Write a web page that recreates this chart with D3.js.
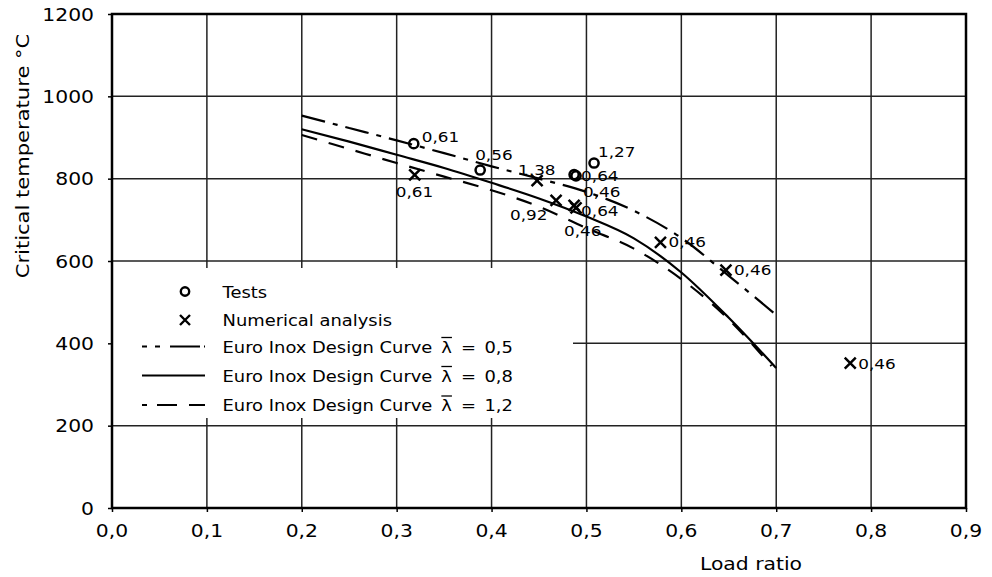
<!DOCTYPE html>
<html>
<head>
<meta charset="utf-8">
<script src="https://cdn.jsdelivr.net/npm/d3@7"></script>
<style>
  html, body { margin: 0; padding: 0; background: #fff; }
  svg { display: block; font-family: "DejaVu Sans", sans-serif; }
</style>
</head>
<body>
<svg id="chart" width="992" height="577"></svg>
<script>
// ---------------- data ----------------
const xTicks = [0, 0.1, 0.2, 0.3, 0.4, 0.5, 0.6, 0.7, 0.8, 0.9];
const yTicks = [0, 200, 400, 600, 800, 1000, 1200];
const xTickLabels = ["0,0", "0,1", "0,2", "0,3", "0,4", "0,5", "0,6", "0,7", "0,8", "0,9"];

// Tests (circles)
const testX = [0.318, 0.388, 0.487, 0.489, 0.508];
const testY = [885, 821, 810, 807, 838];
const testLabel = ["0,61", "0,56", "0,64", "0,46", "1,27"];

// Numerical analysis (crosses)
const numX = [0.319, 0.448, 0.468, 0.487, 0.489, 0.578, 0.647, 0.778];
const numY = [809, 795, 747, 735, 729, 645, 578, 352];
const numLabel = ["0,61", "1,38", "0,92", "0,64", "0,46", "0,46", "0,46", "0,46"];

// Euro Inox design curves
const curveX05 = [0.2, 0.25, 0.3, 0.35, 0.4, 0.45, 0.5, 0.55, 0.6, 0.65, 0.7];
const curveY05 = [953, 923, 893, 862, 830, 800, 768, 722, 656, 564, 469];
const curveX08 = [0.2, 0.25, 0.3, 0.35, 0.4, 0.45, 0.5, 0.55, 0.6, 0.65, 0.7];
const curveY08 = [920, 890, 858, 826, 790, 752, 708, 655, 572, 462, 340];
const curveX12 = [0.2, 0.25, 0.3, 0.35, 0.4, 0.45, 0.5, 0.55, 0.6, 0.65, 0.695];
const curveY12 = [906, 872, 838, 805, 772, 732, 680, 630, 556, 458, 345];

const legendLabels = ["Tests", "Numerical analysis", "Euro Inox Design Curve", "Euro Inox Design Curve", "Euro Inox Design Curve"];
const lambdaValues = ["0,5", "0,8", "1,2"];

// ---------------- layout / styles ----------------
const svg = d3.select("#chart");
const x = d3.scaleLinear().domain([0, 0.9]).range([112, 966]);
const y = d3.scaleLinear().domain([0, 1200]).range([508, 14]);

const SX = 1.13; // horizontal glyph stretch of the reference font

function stretchedText(parent, px, py, str, size, anchor, sx, rot) {
  const g = parent.append("g")
    .attr("transform", `translate(${px},${py})` + (rot ? ` rotate(${rot})` : "") + ` scale(${sx},1)`);
  const t = g.append("text")
    .attr("x", 0).attr("y", 0)
    .attr("font-size", size)
    .attr("text-anchor", anchor || "start")
    .attr("fill", "#000")
    .text(str);
  return { g, t };
}

// gridlines
const grid = svg.append("g");
grid.selectAll("line.vx").data(xTicks.slice(1, -1)).join("line")
  .attr("x1", d => x(d)).attr("x2", d => x(d))
  .attr("y1", y(1200)).attr("y2", y(0))
  .attr("stroke", "#222").attr("stroke-width", 1.5);
grid.selectAll("line.hy").data(yTicks.slice(1, -1)).join("line")
  .attr("x1", x(0)).attr("x2", x(0.9))
  .attr("y1", d => y(d)).attr("y2", d => y(d))
  .attr("stroke", "#222").attr("stroke-width", 1.5);

// legend background (hides the grid behind the key, as in the reference)
const legG = svg.append("g");
legG.append("rect").attr("x", x(0) + 1).attr("y", 268).attr("width", 460).attr("height", 150).attr("fill", "#fff");

// axes via d3 (ticks only, labels drawn stretched)
const xAxis = d3.axisBottom(x).tickValues(xTicks).tickSize(4).tickFormat("");
const yAxis = d3.axisLeft(y).tickValues(yTicks).tickSize(4).tickFormat("");
const gx = svg.append("g").attr("transform", `translate(0,${y(0)})`).call(xAxis);
const gy = svg.append("g").attr("transform", `translate(${x(0)},0)`).call(yAxis);
[gx, gy].forEach(g => {
  g.select(".domain").remove();
  g.selectAll("line").attr("stroke", "#000").attr("stroke-width", 1.5);
});

// frame
svg.append("rect")
  .attr("x", x(0)).attr("y", y(1200))
  .attr("width", x(0.9) - x(0)).attr("height", y(0) - y(1200))
  .attr("fill", "none").attr("stroke", "#000").attr("stroke-width", 2.5);

// tick labels
xTicks.forEach((v, i) => stretchedText(svg, x(v), 537, xTickLabels[i], 18, "middle", SX));
yTicks.forEach(v => stretchedText(svg, 94, y(v) + 6.5, String(v), 18, "end", SX));

// axis titles
stretchedText(svg, 751, 570, "Load ratio", 18, "middle", SX);
stretchedText(svg, 29, 156, "Critical temperature °C", 18, "middle", 1.17, -90);

// curves
const line = d3.line().x(d => x(d[0])).y(d => y(d[1])).curve(d3.curveMonotoneX);
const curves = [
  { xs: curveX05, ys: curveY05, dash: "24,8,5,8" },
  { xs: curveX08, ys: curveY08, dash: null },
  { xs: curveX12, ys: curveY12, dash: "16,12" }
];
curves.forEach(c => {
  svg.append("path")
    .datum(c.xs.map((v, i) => [v, c.ys[i]]))
    .attr("d", line)
    .attr("fill", "none").attr("stroke", "#000").attr("stroke-width", 2.2)
    .attr("stroke-dasharray", c.dash);
});

// markers
function drawCross(px, py, s) {
  svg.append("path")
    .attr("d", `M${px - s},${py - s}L${px + s},${py + s}M${px - s},${py + s}L${px + s},${py - s}`)
    .attr("stroke", "#000").attr("stroke-width", 2.5).attr("fill", "none");
}
testX.forEach((v, i) => {
  svg.append("circle").attr("cx", x(v)).attr("cy", y(testY[i])).attr("r", 4.6)
    .attr("fill", "none").attr("stroke", "#000").attr("stroke-width", 2.5);
});
numX.forEach((v, i) => drawCross(x(v), y(numY[i]), 5.5));

// data labels (offsets in px)
const testOff = [[8, -2], [-5, -10], [7, 6], [7, 21], [4, -6]];
const numOff = [[-19, 22], [-19, -6], [-46, 20], [7, 11], [-12, 28], [8, 5], [8, 5], [8, 6]];
testX.forEach((v, i) => stretchedText(svg, x(v) + testOff[i][0], y(testY[i]) + testOff[i][1], testLabel[i], 14.5, "start", 1.16));
numX.forEach((v, i) => stretchedText(svg, x(v) + numOff[i][0], y(numY[i]) + numOff[i][1], numLabel[i], 14.5, "start", 1.16));

// legend
const legRows = [291.5, 320, 346.5, 375.5, 405];
legG.append("circle").attr("cx", 185).attr("cy", legRows[0]).attr("r", 4.2)
  .attr("fill", "none").attr("stroke", "#000").attr("stroke-width", 2.4);
legG.append("path")
  .attr("d", `M180,${legRows[1] - 5}L190,${legRows[1] + 5}M180,${legRows[1] + 5}L190,${legRows[1] - 5}`)
  .attr("stroke", "#000").attr("stroke-width", 2.4);
curves.forEach((c, i) => {
  legG.append("line").attr("x1", 142).attr("x2", 205)
    .attr("y1", legRows[i + 2]).attr("y2", legRows[i + 2])
    .attr("stroke", "#000").attr("stroke-width", 2.2)
    .attr("stroke-dasharray", i === 0 ? "5,8,5,10,30,4" : (i === 2 ? "5,10,20,12,18" : null));
});
legendLabels.forEach((lab, i) => {
  const { g, t } = stretchedText(legG, 222.5, legRows[i] + 6, lab, 16, "start", 1.12);
  if (i >= 2) {
    const base = t.node().getComputedTextLength() + 8;
    const lt = g.append("text").attr("x", base).attr("y", 0).attr("font-size", 16).attr("fill", "#000").text("λ");
    const lw = lt.node().getComputedTextLength();
    g.append("line").attr("x1", base).attr("x2", base + lw).attr("y1", -15).attr("y2", -15)
      .attr("stroke", "#000").attr("stroke-width", 1.3);
    g.append("text").attr("x", base + lw + 8).attr("y", 0).attr("font-size", 16).attr("fill", "#000")
      .text("=");
    g.append("text").attr("x", base + lw + 29).attr("y", 0).attr("font-size", 16).attr("fill", "#000")
      .text(lambdaValues[i - 2]);
  }
});
</script>
</body>
</html>
